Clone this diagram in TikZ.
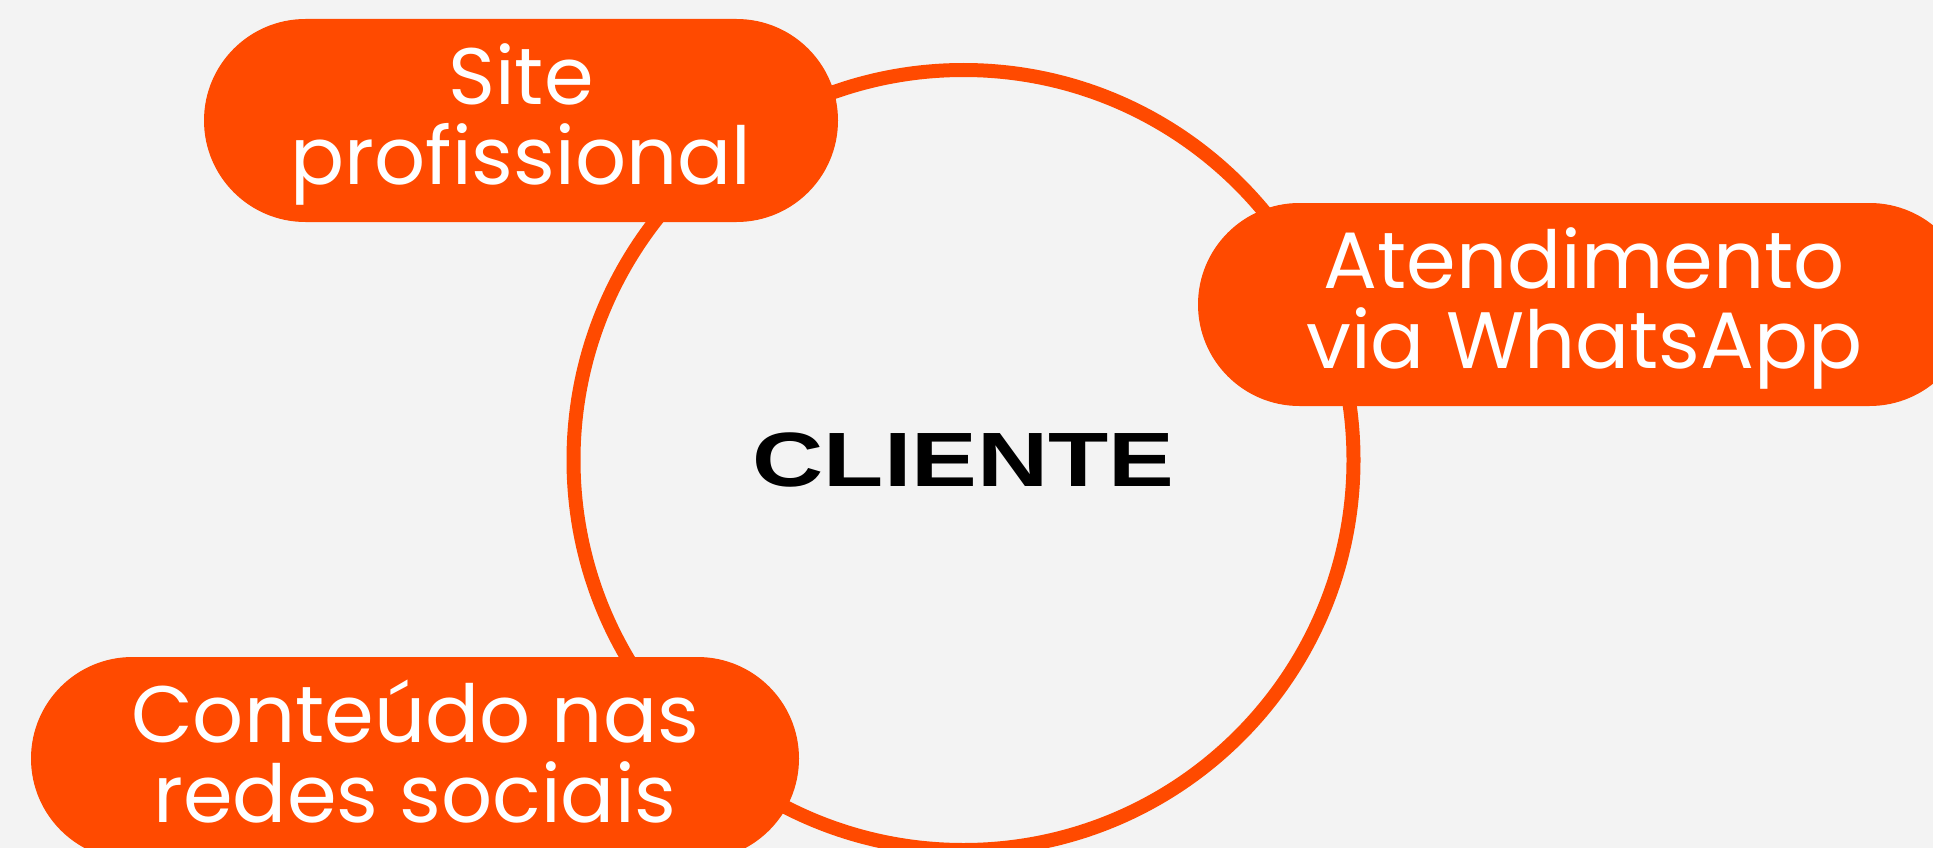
\documentclass[tikz,border=0pt]{standalone}
\usepackage{fontspec}
\setmainfont{Liberation Sans}
\newfontfamily\pillfont{Poppins}
\newfontfamily\centerfont[FakeStretch=1.28]{Liberation Sans Bold}
\definecolor{brand}{RGB}{255,74,0}
\definecolor{paper}{RGB}{243,243,243}
\newcommand\pilltext[2]{\rule{0pt}{70pt}#1\\#2\rule[-23pt]{0pt}{23pt}}
\begin{document}
\begin{tikzpicture}[x=1pt,y=-1pt,
  pill/.style={fill=brand, text=white, rounded corners=101.5pt, minimum height=203pt,
    inner sep=0pt, align=center, font={\pillfont\fontsize{80}{80}\selectfont}},
  ring/.style={circle, draw=brand, line width=14pt, minimum size=780pt, inner sep=0pt,
    text=black, font={\centerfont\fontsize{77}{80}\selectfont}}]
\path[fill=paper, use as bounding box] (0,0) rectangle (1933,848);
\clip (0,0) rectangle (1933,848);
\node[ring] (client) at (963.5,460) {CLIENTE};
\node[pill, minimum width=634pt] (site) at (521,120.5) {\pilltext{Site}{profissional}};
\node[pill, minimum width=773pt] (whats) at (1584.5,304.5) {\pilltext{Atendimento}{via WhatsApp}};
\node[pill, minimum width=768pt] (redes) at (415,758.5) {\pilltext{Conteúdo nas}{redes sociais}};
\end{tikzpicture}
\end{document}
